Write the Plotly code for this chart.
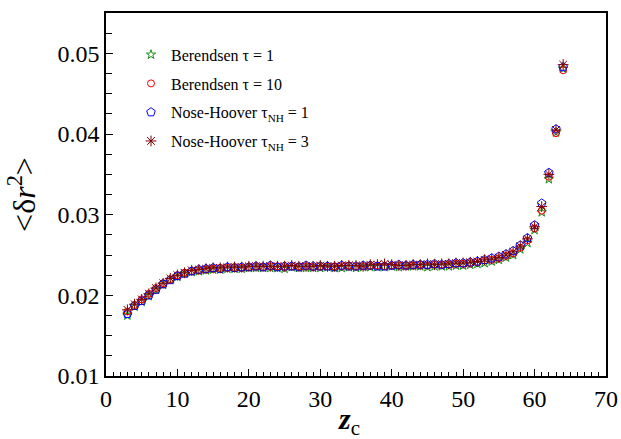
import plotly.graph_objects as go

# z_c values (one point per integer)
zc = list(range(3, 65))

berendsen_1 = [0.0175, 0.0186, 0.0192, 0.0199, 0.0207, 0.0213, 0.0219, 0.0223, 0.0227, 0.0229,
               0.0230, 0.0231, 0.0232, 0.0232, 0.0233, 0.0233, 0.0233, 0.0234, 0.0234, 0.0234,
               0.0234, 0.0234, 0.0233, 0.0235, 0.0234, 0.0234, 0.0234, 0.0234, 0.0235, 0.0234,
               0.0234, 0.0235, 0.0234, 0.0235, 0.0235, 0.0235, 0.0235, 0.0236, 0.0235, 0.0236,
               0.0236, 0.0236, 0.0235, 0.0236, 0.0236, 0.0236, 0.0237, 0.0237, 0.0238, 0.0239,
               0.0240, 0.0242, 0.0244, 0.0247, 0.0250, 0.0257, 0.0265, 0.0281, 0.0303, 0.0344,
               0.0402, 0.0481]

berendsen_10 = [0.0180, 0.0188, 0.0195, 0.0202, 0.0209, 0.0215, 0.0220, 0.0225, 0.0228, 0.0230,
                0.0231, 0.0232, 0.0233, 0.0234, 0.0234, 0.0235, 0.0234, 0.0235, 0.0236, 0.0235,
                0.0236, 0.0236, 0.0235, 0.0236, 0.0236, 0.0236, 0.0235, 0.0236, 0.0236, 0.0236,
                0.0236, 0.0237, 0.0236, 0.0236, 0.0237, 0.0237, 0.0236, 0.0237, 0.0237, 0.0237,
                0.0237, 0.0238, 0.0237, 0.0238, 0.0238, 0.0238, 0.0239, 0.0239, 0.0240, 0.0241,
                0.0243, 0.0244, 0.0246, 0.0249, 0.0252, 0.0259, 0.0268, 0.0283, 0.0305, 0.0347,
                0.0401, 0.0479]

nose_hoover_1 = [0.0177, 0.0187, 0.0193, 0.0200, 0.0207, 0.0214, 0.0219, 0.0224, 0.0227, 0.0230,
                 0.0232, 0.0233, 0.0234, 0.0233, 0.0235, 0.0234, 0.0235, 0.0235, 0.0236, 0.0235,
                 0.0237, 0.0235, 0.0236, 0.0236, 0.0235, 0.0237, 0.0236, 0.0236, 0.0236, 0.0235,
                 0.0237, 0.0236, 0.0236, 0.0237, 0.0237, 0.0236, 0.0236, 0.0237, 0.0238, 0.0237,
                 0.0238, 0.0238, 0.0238, 0.0239, 0.0238, 0.0239, 0.0240, 0.0240, 0.0241, 0.0242,
                 0.0244, 0.0246, 0.0248, 0.0251, 0.0255, 0.0262, 0.0271, 0.0287, 0.0314, 0.0352,
                 0.0406, 0.0483]

nose_hoover_3 = [0.0182, 0.0189, 0.0195, 0.0202, 0.0209, 0.0215, 0.0221, 0.0225, 0.0228, 0.0231,
                 0.0232, 0.0233, 0.0234, 0.0234, 0.0235, 0.0235, 0.0235, 0.0236, 0.0236, 0.0236,
                 0.0236, 0.0236, 0.0236, 0.0237, 0.0236, 0.0236, 0.0236, 0.0237, 0.0236, 0.0236,
                 0.0237, 0.0237, 0.0237, 0.0236, 0.0238, 0.0238, 0.0239, 0.0238, 0.0237, 0.0237,
                 0.0238, 0.0238, 0.0239, 0.0238, 0.0239, 0.0239, 0.0240, 0.0240, 0.0241, 0.0242,
                 0.0244, 0.0245, 0.0247, 0.0250, 0.0254, 0.0261, 0.0270, 0.0285, 0.0310, 0.0350,
                 0.0405, 0.0486]

names = ['Berendsen τ = 1', 'Berendsen τ = 10',
         'Nose-Hoover τ<sub>NH</sub> = 1', 'Nose-Hoover τ<sub>NH</sub> = 3']

y_ticks = [0.01, 0.02, 0.03, 0.04, 0.05]
y_labels = ['0.01', '0.02', '0.03', '0.04', '0.05']
x_ticks = [0, 10, 20, 30, 40, 50, 60, 70]

serif = 'Times New Roman, Liberation Serif, serif'

series = [
    (berendsen_1, 'star-open', '#1a8c1a', 7),
    (berendsen_10, 'circle-open', '#ff0000', 7),
    (nose_hoover_1, 'pentagon-open', '#0000ff', 9),
    (nose_hoover_3, 'asterisk-open', '#800000', 9),
]

fig = go.Figure()
for i, ((vals, sym, col, size), name) in enumerate(zip(series, names)):
    fig.add_trace(go.Scatter(
        x=zc, y=vals, mode='markers', name=name, legendgroup=f'g{i}',
        marker=dict(symbol=sym, size=size, color=col, line=dict(color=col, width=1)),
    ))

fig.update_layout(
    width=621, height=439,
    margin=dict(l=106, r=15, t=13, b=63),
    paper_bgcolor='white', plot_bgcolor='white',
    font=dict(family=serif, color='black'),
    showlegend=True,
    legend=dict(x=0.05, y=0.932, xanchor='left', yanchor='top',
                bgcolor='rgba(0,0,0,0)', font=dict(size=16, family=serif),
                tracegroupgap=5, itemsizing='trace'),
)

# x title as annotation so it sits where the original does
fig.add_annotation(
    text='<b><i>z</i></b><sub>c</sub>', xref='paper', yref='paper',
    x=0.485, y=0, xanchor='center', yanchor='top', yshift=-24,
    showarrow=False, font=dict(size=30, family=serif),
)

fig.update_xaxes(
    range=[0, 70], tickvals=x_ticks, showgrid=False, zeroline=False, automargin=False,
    showline=True, linecolor='black', linewidth=1.5, mirror=True,
    ticks='inside', ticklen=7, tickwidth=1, tickcolor='black',
    minor=dict(dtick=1, ticks='inside', ticklen=4, tickcolor='black', showgrid=False),
    tickfont=dict(size=24, family=serif),
)
fig.update_yaxes(
    range=[0.01, 0.055], tickvals=y_ticks, ticktext=y_labels, showgrid=False, zeroline=False,
    automargin=False,
    showline=True, linecolor='black', linewidth=1.5, mirror=True,
    ticks='inside', ticklen=7, tickwidth=1, tickcolor='black',
    minor=dict(dtick=0.0025, tick0=0.01, ticks='inside', ticklen=6, tickcolor='black', showgrid=False),
    tickfont=dict(size=24, family=serif),
    title=dict(text='&lt;δ<i>r</i><sup>2</sup>&gt;', font=dict(size=32, family=serif), standoff=12),
)

# drop the default page margin so the figure fills the window exactly
fig.write_html("out.html", config={'displayModeBar': False},
               post_script="document.body.style.margin='0';")
